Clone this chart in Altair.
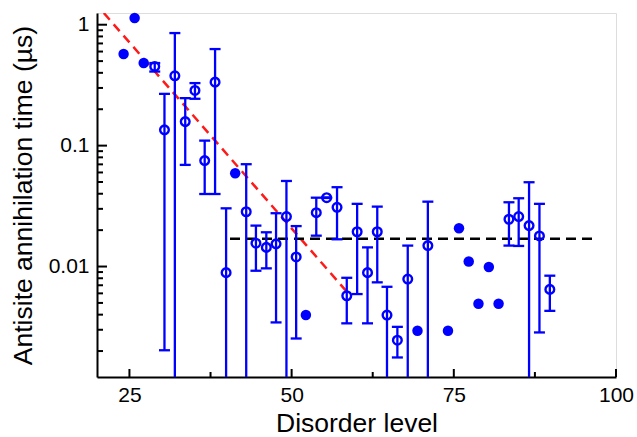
import altair as alt
import pandas as pd

# Filled points (no error bars)
filled_x = [24.1, 25.8, 27.2, 41.3, 52.2, 69.4, 74.1, 75.8, 77.3, 78.8, 80.4, 81.9]
filled_y = [0.572, 1.136, 0.482, 0.059, 0.00397, 0.00294, 0.00294, 0.0207, 0.011, 0.00492, 0.0099, 0.00492]

# Open points with error bars (low of 0.0009 means the bar runs off the bottom)
open_x = [28.9, 30.4, 32.0, 33.6, 35.1, 36.6, 38.2, 39.9, 43.0, 44.5, 46.1, 47.6, 49.2, 50.7,
          53.8, 55.4, 57.0, 58.5, 60.1, 61.7, 63.2, 64.7, 66.3, 67.9, 71.0, 83.5, 85.0, 86.6, 88.2, 89.8]
open_y = [0.452, 0.135, 0.378, 0.158, 0.286, 0.0752, 0.335, 0.0089, 0.0284, 0.0156, 0.0144, 0.0154, 0.0259, 0.012,
          0.0279, 0.0371, 0.0309, 0.00573, 0.0194, 0.0089, 0.0194, 0.00397, 0.00246, 0.00788, 0.0149, 0.0246, 0.0259, 0.0218, 0.0179, 0.00647]
open_lo = [0.41, 0.00203, 0.0009, 0.0693, 0.244, 0.0398, 0.0398, 0.0009, 0.0009, 0.00923, 0.00966, 0.00345, 0.0009, 0.00254,
           0.018, 0.0369, 0.0168, 0.00339, 0.00592, 0.00339, 0.0074, 0.0009, 0.00177, 0.0009, 0.0009, 0.0149, 0.0148, 0.0009, 0.00285, 0.0043]
open_hi = [0.482, 0.268, 0.853, 0.247, 0.329, 0.110, 0.629, 0.0303, 0.0702, 0.0218, 0.0192, 0.0276, 0.051, 0.0216,
           0.0371, 0.0373, 0.0453, 0.00807, 0.033, 0.0144, 0.0313, 0.0068, 0.00317, 0.0149, 0.0344, 0.034, 0.0367, 0.0498, 0.033, 0.0084]

# Fit lines
red_x = [21.05, 58.5]
red_y = [1.25, 0.0062]
black_x = [40.5, 97.0]
black_y = [0.017, 0.017]

# Axis ticks
x_major = [25, 50, 75, 100]
x_minor = [37.5, 62.5, 87.5]
y_major = [0.01, 0.1, 1]
y_minor = [0.002, 0.003, 0.004, 0.005, 0.006, 0.007, 0.008, 0.009,
           0.02, 0.03, 0.04, 0.05, 0.06, 0.07, 0.08, 0.09,
           0.2, 0.3, 0.4, 0.5, 0.6, 0.7, 0.8, 0.9]

W, H = 519, 364
BLUE = "#0000ff"
FONT = "Liberation Sans"
XTITLE = "Disorder level"
YTITLE = "Antisite annihilation time (µs)"

xsc = alt.Scale(domain=[20, 100], nice=False, zero=False)
ysc = alt.Scale(type="log", domain=[0.00122, 1.25], nice=False)

xax = alt.Axis(values=x_major, ticks=False, tickSize=0, grid=False, domainColor="black",
               domainWidth=2, labelFont=FONT, labelFontSize=21, labelColor="black",
               labelPadding=7, titleFont=FONT, titleFontSize=26.5, titleFontWeight="normal",
               titleColor="black", titlePadding=5, labelFlush=False)
yax = alt.Axis(values=y_major, format="~g", ticks=False, tickSize=0, grid=False, domainColor="black",
               domainWidth=2, labelFont=FONT, labelFontSize=21, labelColor="black",
               labelPadding=8, titleFont=FONT, titleFontSize=26.5, titleFontWeight="normal",
               titleColor="black", titlePadding=11, labelFlush=False)

df_f = pd.DataFrame({"x": filled_x, "y": filled_y})
df_o = pd.DataFrame({"x": open_x, "y": open_y, "lo": open_lo, "hi": open_hi})
df_r = pd.DataFrame({"x": red_x, "y": red_y})
df_b = pd.DataFrame({"x": black_x, "y": black_y})


def X(f="x"):
    return alt.X(f, type="quantitative", scale=xsc, axis=xax, title=XTITLE)


def Y(f="y"):
    return alt.Y(f, type="quantitative", scale=ysc, axis=yax, title=YTITLE)


xt_major = alt.Chart(pd.DataFrame({"x": x_major})).mark_rule(color="black", strokeWidth=2).encode(
    x=X(), y=alt.value(H), y2=alt.value(H - 8))
xt_minor = alt.Chart(pd.DataFrame({"x": x_minor})).mark_rule(color="black", strokeWidth=2).encode(
    x=X(), y=alt.value(H), y2=alt.value(H - 5))
yt_major = alt.Chart(pd.DataFrame({"y": y_major})).mark_rule(color="black", strokeWidth=2).encode(
    y=Y(), x=alt.value(0), x2=alt.value(10))
yt_minor = alt.Chart(pd.DataFrame({"y": y_minor})).mark_rule(color="black", strokeWidth=2).encode(
    y=Y(), x=alt.value(0), x2=alt.value(6))

red = alt.Chart(df_r).mark_line(color="#ff1a1a", strokeWidth=2.5, strokeDash=[9, 6], clip=True).encode(x=X(), y=Y())
black = alt.Chart(df_b).mark_line(color="black", strokeWidth=2.5, strokeDash=[10, 6], clip=True).encode(x=X(), y=Y())

bars = alt.Chart(df_o).mark_rule(color=BLUE, strokeWidth=2.3, opacity=1, clip=True).encode(x=X(), y=Y("lo"), y2=alt.Y2("hi"))
cap_hi = alt.Chart(df_o).mark_tick(color=BLUE, orient="horizontal", size=11, thickness=2.3, opacity=1, clip=True).encode(x=X(), y=Y("hi"))
cap_lo = alt.Chart(df_o).mark_tick(color=BLUE, orient="horizontal", size=11, thickness=2.3, opacity=1, clip=True).encode(x=X(), y=Y("lo"))
opens = alt.Chart(df_o).mark_point(shape="circle", filled=False, color=BLUE, size=75, strokeWidth=2.4, opacity=1).encode(x=X(), y=Y())
fills = alt.Chart(df_f).mark_point(shape="circle", filled=True, color=BLUE, size=110, opacity=1).encode(x=X(), y=Y())

chart = alt.layer(red, black, bars, cap_hi, cap_lo, opens, fills,
                  xt_major, xt_minor, yt_major, yt_minor).properties(
    width=W, height=H, autosize=alt.AutoSizeParams(type="none"),
    padding={"left": 97, "top": 13, "right": 21, "bottom": 60},
).configure_view(stroke=None).configure(background="white")

chart.save("out.html", embed_options={"renderer": "svg", "actions": False})
